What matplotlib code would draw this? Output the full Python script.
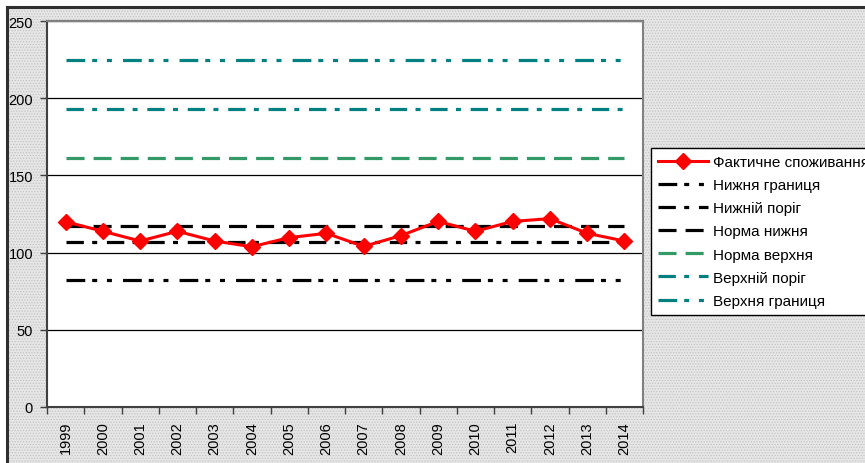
import numpy as np
import matplotlib
matplotlib.use("Agg")
import matplotlib.pyplot as plt
from matplotlib.patches import Rectangle
from matplotlib.lines import Line2D

plt.rcParams['font.family'] = ['Liberation Sans', 'DejaVu Sans']
plt.rcParams['lines.scale_dashes'] = False
plt.rcParams['hatch.linewidth'] = 0.6

# --- data ---
years = [str(y) for y in range(1999, 2015)]
actual = [120.0, 113.8, 107.5, 113.8, 107.5, 103.8, 109.7, 112.5,
          104.0, 111.0, 120.2, 113.8, 120.2, 122.0, 112.5, 107.5]

level_names = ["Нижня границя", "Нижній поріг", "Норма нижня",
               "Норма верхня", "Верхній поріг", "Верхня границя"]
level_values = [82, 107, 117, 161, 193, 225]
level_colors = ["black", "black", "black", "#339966", "#008080", "#008080"]

# dash patterns in points (px * 0.72)
dash_dot_dot = (0, (13.5, 5, 3.6, 7, 3.6, 8))
dash_dot = (0, (12.5, 6, 3.6, 7))
dashed = (0, (13, 6.5))
level_styles = [dash_dot_dot, dash_dot, dashed, dashed, dash_dot, dash_dot_dot]

W, H = 865, 464
fig = plt.figure(figsize=(W / 100, H / 100), dpi=100)
fig.patch.set_facecolor("white")

# chart area background (dotted pattern) with dark border on top/left
bg = Rectangle((7 / W, 0), 1, 1 - 8 / H, transform=fig.transFigure,
               facecolor="#e6e6e6", edgecolor="#c4c4c4", hatch="......",
               linewidth=0, zorder=-10)
fig.patches.append(bg)
fig.add_artist(Line2D([7 / W, 7 / W], [0, 1 - 8 / H], color="#303030", lw=2.2,
                      transform=fig.transFigure, zorder=-5))
fig.add_artist(Line2D([7 / W, 1], [1 - 8 / H, 1 - 8 / H], color="#303030", lw=2.2,
                      transform=fig.transFigure, zorder=-5))

ax = fig.add_axes([47 / W, (H - 408) / H, (643 - 47) / W, (408 - 22) / H])
ax.set_facecolor("white")

x = np.arange(len(years))
ax.plot(x, actual, color="#ff0000", lw=2.2, marker="D", markersize=8.5,
        markeredgecolor="#ff0000", markerfacecolor="#ff0000",
        label="Фактичне споживання", zorder=5)

for name, val, col, ls in zip(level_names, level_values, level_colors, level_styles):
    ax.plot(x, [val] * len(x), color=col, lw=2.3, linestyle=ls, label=name,
            dash_capstyle="butt", zorder=3)

ax.set_xlim(-0.5, len(years) - 0.5)
ax.set_ylim(0, 250)
ax.set_yticks(np.arange(0, 251, 50))
ax.yaxis.grid(True, color="black", lw=0.9)
ax.set_axisbelow(True)

ax.set_xticks(np.arange(-0.5, len(years), 1))
ax.set_xticklabels([])
ax.set_xticks(x, minor=True)
ax.set_xticklabels(years, minor=True, rotation=90, fontsize=10.5)
ax.tick_params(axis="x", which="minor", length=0, pad=10)
ax.tick_params(axis="x", which="major", length=5, width=1, color="#404040")
ax.tick_params(axis="y", length=5, width=1, color="#404040", labelsize=10.5, pad=5)

for side in ["left", "bottom"]:
    ax.spines[side].set_color("#404040")
    ax.spines[side].set_linewidth(1.5)
for side in ["top", "right"]:
    ax.spines[side].set_color("#808080")
    ax.spines[side].set_linewidth(1.5)

leg = ax.legend(loc="upper left", bbox_to_anchor=(651 / W, 1 - 149 / H),
                bbox_transform=fig.transFigure, fontsize=11, frameon=True,
                fancybox=False, edgecolor="black", framealpha=1,
                handlelength=3.25, handletextpad=0.35, labelspacing=0.6,
                borderpad=0.45, borderaxespad=0)
leg.get_frame().set_linewidth(1)

fig.savefig("out.png", dpi=100, facecolor=fig.get_facecolor())
